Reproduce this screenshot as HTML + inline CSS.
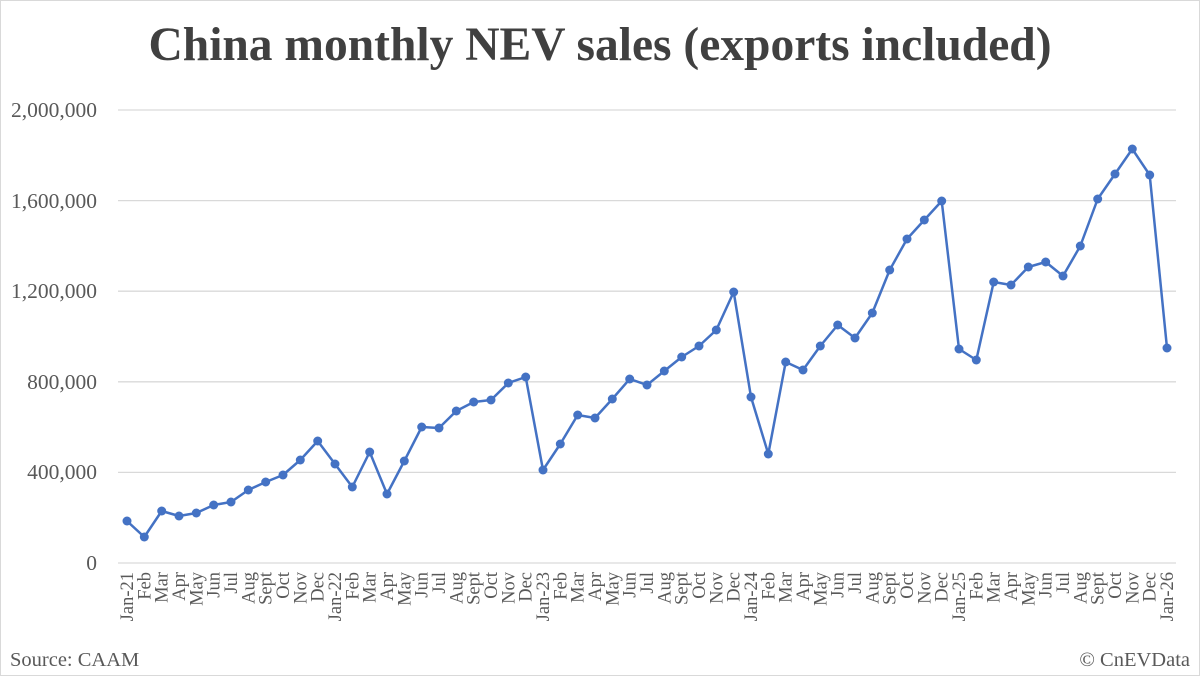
<!DOCTYPE html>
<html><head><meta charset="utf-8"><style>
html,body{margin:0;padding:0;background:#fff}
svg{display:block}
text{font-family:"Liberation Serif",serif;fill:#595959}
</style></head><body>
<svg width="1200" height="676" viewBox="0 0 1200 676" xmlns="http://www.w3.org/2000/svg">
<rect x="0.5" y="0.5" width="1199" height="675" fill="#fff" stroke="#d9d9d9"/>
<text x="600" y="60" text-anchor="middle" style="font-size:47.5px;font-weight:bold;fill:#404040">China monthly NEV sales (exports included)</text>
<g stroke="#d9d9d9" stroke-width="1.3">
<line x1="118" x2="1176" y1="110" y2="110"/>
<line x1="118" x2="1176" y1="200.6" y2="200.6"/>
<line x1="118" x2="1176" y1="291.2" y2="291.2"/>
<line x1="118" x2="1176" y1="381.8" y2="381.8"/>
<line x1="118" x2="1176" y1="472.4" y2="472.4"/>
<line x1="118" x2="1176" y1="563" y2="563"/>
</g>
<g style="font-size:21.5px" text-anchor="end">
<text x="97" y="117">2,000,000</text>
<text x="97" y="208">1,600,000</text>
<text x="97" y="298">1,200,000</text>
<text x="97" y="389">800,000</text>
<text x="97" y="479">400,000</text>
<text x="97" y="570">0</text>
</g>
<polyline fill="none" stroke="#4472c4" stroke-width="2.5" stroke-linejoin="round" points="127,521 144.3,537 161.7,511 179,516 196.3,513 213.7,505 231,502 248.3,490 265.7,482 283,475 300.3,460 317.7,441 335,464 352.3,487 369.7,452 387,494 404.3,461 421.7,427 439,428 456.3,411 473.7,402 491,400 508.3,383 525.7,377 543,470 560.3,444 577.7,415 595,418 612.3,399 629.7,379 647,385 664.3,371 681.7,357 699,346 716.3,330 733.7,292 751,397 768.3,454 785.7,362 803,370 820.3,346 837.7,325 855,338 872.3,313 889.7,270 907,239 924.3,220 941.7,201 959,349 976.3,360 993.7,282 1011,285 1028.3,267 1045.7,262 1063,276 1080.3,246 1097.7,199 1115,174 1132.3,149 1149.7,175 1167,348"/>
<g fill="#4472c4">
<circle cx="127" cy="521" r="4.5"/><circle cx="144.3" cy="537" r="4.5"/><circle cx="161.7" cy="511" r="4.5"/><circle cx="179" cy="516" r="4.5"/><circle cx="196.3" cy="513" r="4.5"/><circle cx="213.7" cy="505" r="4.5"/><circle cx="231" cy="502" r="4.5"/><circle cx="248.3" cy="490" r="4.5"/><circle cx="265.7" cy="482" r="4.5"/><circle cx="283" cy="475" r="4.5"/><circle cx="300.3" cy="460" r="4.5"/><circle cx="317.7" cy="441" r="4.5"/><circle cx="335" cy="464" r="4.5"/><circle cx="352.3" cy="487" r="4.5"/><circle cx="369.7" cy="452" r="4.5"/><circle cx="387" cy="494" r="4.5"/><circle cx="404.3" cy="461" r="4.5"/><circle cx="421.7" cy="427" r="4.5"/><circle cx="439" cy="428" r="4.5"/><circle cx="456.3" cy="411" r="4.5"/><circle cx="473.7" cy="402" r="4.5"/><circle cx="491" cy="400" r="4.5"/><circle cx="508.3" cy="383" r="4.5"/><circle cx="525.7" cy="377" r="4.5"/><circle cx="543" cy="470" r="4.5"/><circle cx="560.3" cy="444" r="4.5"/><circle cx="577.7" cy="415" r="4.5"/><circle cx="595" cy="418" r="4.5"/><circle cx="612.3" cy="399" r="4.5"/><circle cx="629.7" cy="379" r="4.5"/><circle cx="647" cy="385" r="4.5"/><circle cx="664.3" cy="371" r="4.5"/><circle cx="681.7" cy="357" r="4.5"/><circle cx="699" cy="346" r="4.5"/><circle cx="716.3" cy="330" r="4.5"/><circle cx="733.7" cy="292" r="4.5"/><circle cx="751" cy="397" r="4.5"/><circle cx="768.3" cy="454" r="4.5"/><circle cx="785.7" cy="362" r="4.5"/><circle cx="803" cy="370" r="4.5"/><circle cx="820.3" cy="346" r="4.5"/><circle cx="837.7" cy="325" r="4.5"/><circle cx="855" cy="338" r="4.5"/><circle cx="872.3" cy="313" r="4.5"/><circle cx="889.7" cy="270" r="4.5"/><circle cx="907" cy="239" r="4.5"/><circle cx="924.3" cy="220" r="4.5"/><circle cx="941.7" cy="201" r="4.5"/><circle cx="959" cy="349" r="4.5"/><circle cx="976.3" cy="360" r="4.5"/><circle cx="993.7" cy="282" r="4.5"/><circle cx="1011" cy="285" r="4.5"/><circle cx="1028.3" cy="267" r="4.5"/><circle cx="1045.7" cy="262" r="4.5"/><circle cx="1063" cy="276" r="4.5"/><circle cx="1080.3" cy="246" r="4.5"/><circle cx="1097.7" cy="199" r="4.5"/><circle cx="1115" cy="174" r="4.5"/><circle cx="1132.3" cy="149" r="4.5"/><circle cx="1149.7" cy="175" r="4.5"/><circle cx="1167" cy="348" r="4.5"/>
</g>
<g style="font-size:18.5px" text-anchor="end">
<text transform="translate(133,572) rotate(-90)">Jan-21</text>
<text transform="translate(150.3,572) rotate(-90)">Feb</text>
<text transform="translate(167.7,572) rotate(-90)">Mar</text>
<text transform="translate(185,572) rotate(-90)">Apr</text>
<text transform="translate(202.3,572) rotate(-90)">May</text>
<text transform="translate(219.7,572) rotate(-90)">Jun</text>
<text transform="translate(237,572) rotate(-90)">Jul</text>
<text transform="translate(254.3,572) rotate(-90)">Aug</text>
<text transform="translate(271.7,572) rotate(-90)">Sept</text>
<text transform="translate(289,572) rotate(-90)">Oct</text>
<text transform="translate(306.3,572) rotate(-90)">Nov</text>
<text transform="translate(323.7,572) rotate(-90)">Dec</text>
<text transform="translate(341,572) rotate(-90)">Jan-22</text>
<text transform="translate(358.3,572) rotate(-90)">Feb</text>
<text transform="translate(375.7,572) rotate(-90)">Mar</text>
<text transform="translate(393,572) rotate(-90)">Apr</text>
<text transform="translate(410.3,572) rotate(-90)">May</text>
<text transform="translate(427.7,572) rotate(-90)">Jun</text>
<text transform="translate(445,572) rotate(-90)">Jul</text>
<text transform="translate(462.3,572) rotate(-90)">Aug</text>
<text transform="translate(479.7,572) rotate(-90)">Sept</text>
<text transform="translate(497,572) rotate(-90)">Oct</text>
<text transform="translate(514.3,572) rotate(-90)">Nov</text>
<text transform="translate(531.7,572) rotate(-90)">Dec</text>
<text transform="translate(549,572) rotate(-90)">Jan-23</text>
<text transform="translate(566.3,572) rotate(-90)">Feb</text>
<text transform="translate(583.7,572) rotate(-90)">Mar</text>
<text transform="translate(601,572) rotate(-90)">Apr</text>
<text transform="translate(618.3,572) rotate(-90)">May</text>
<text transform="translate(635.7,572) rotate(-90)">Jun</text>
<text transform="translate(653,572) rotate(-90)">Jul</text>
<text transform="translate(670.3,572) rotate(-90)">Aug</text>
<text transform="translate(687.7,572) rotate(-90)">Sept</text>
<text transform="translate(705,572) rotate(-90)">Oct</text>
<text transform="translate(722.3,572) rotate(-90)">Nov</text>
<text transform="translate(739.7,572) rotate(-90)">Dec</text>
<text transform="translate(757,572) rotate(-90)">Jan-24</text>
<text transform="translate(774.3,572) rotate(-90)">Feb</text>
<text transform="translate(791.7,572) rotate(-90)">Mar</text>
<text transform="translate(809,572) rotate(-90)">Apr</text>
<text transform="translate(826.3,572) rotate(-90)">May</text>
<text transform="translate(843.7,572) rotate(-90)">Jun</text>
<text transform="translate(861,572) rotate(-90)">Jul</text>
<text transform="translate(878.3,572) rotate(-90)">Aug</text>
<text transform="translate(895.7,572) rotate(-90)">Sept</text>
<text transform="translate(913,572) rotate(-90)">Oct</text>
<text transform="translate(930.3,572) rotate(-90)">Nov</text>
<text transform="translate(947.7,572) rotate(-90)">Dec</text>
<text transform="translate(965,572) rotate(-90)">Jan-25</text>
<text transform="translate(982.3,572) rotate(-90)">Feb</text>
<text transform="translate(999.7,572) rotate(-90)">Mar</text>
<text transform="translate(1017,572) rotate(-90)">Apr</text>
<text transform="translate(1034.3,572) rotate(-90)">May</text>
<text transform="translate(1051.7,572) rotate(-90)">Jun</text>
<text transform="translate(1069,572) rotate(-90)">Jul</text>
<text transform="translate(1086.3,572) rotate(-90)">Aug</text>
<text transform="translate(1103.7,572) rotate(-90)">Sept</text>
<text transform="translate(1121,572) rotate(-90)">Oct</text>
<text transform="translate(1138.3,572) rotate(-90)">Nov</text>
<text transform="translate(1155.7,572) rotate(-90)">Dec</text>
<text transform="translate(1173,572) rotate(-90)">Jan-26</text>
</g>
<text x="10" y="666" style="font-size:20.5px">Source: CAAM</text>
<text x="1190" y="666" text-anchor="end" style="font-size:20.5px">© CnEVData</text>
</svg>
</body></html>
